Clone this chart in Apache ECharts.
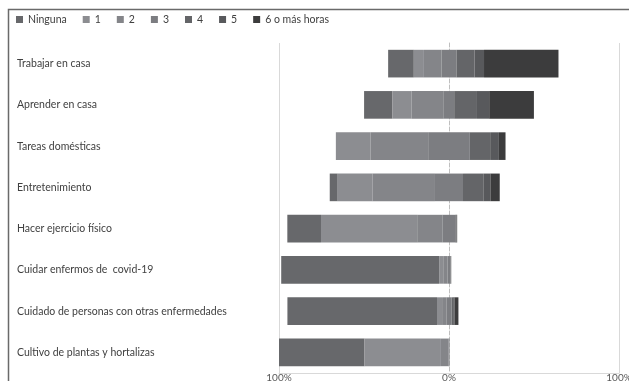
<!DOCTYPE html>
<html>
<head>
<meta charset="utf-8">
<script src="https://cdn.jsdelivr.net/npm/echarts@6/dist/echarts.min.js"></script>
<style>
  html, body { margin: 0; padding: 0; background: #fff; }
  #chart { width: 629px; height: 381px; }
</style>
</head>
<body>
<div id="chart"></div>
<script>
// Activities, top to bottom
const categories = [
  'Trabajar en casa',
  'Aprender en casa',
  'Tareas domésticas',
  'Entretenimiento',
  'Hacer ejercicio físico',
  'Cuidar enfermos de  covid-19',
  'Cuidado de personas con otras enfermedades',
  'Cultivo de plantas y hortalizas'
];

// Share of respondents (%) by hours per day spent on each activity
const ninguna = [15.1, 16.7, 0.0, 4.7, 19.8, 92.9, 88.0, 50.4];
const horas1  = [5.5, 11.2, 20.4, 20.4, 57.0, 2.4, 3.5, 44.5];
const horas2  = [10.8, 19.0, 33.9, 36.8, 14.6, 2.6, 2.0, 4.9];
const horas3  = [8.8, 6.1, 24.5, 16.5, 7.4, 1.6, 3.1, 0.6];
const horas4  = [10.6, 13.4, 12.4, 12.2, 0.6, 0.3, 0.9, 0.0];
const horas5  = [5.6, 7.2, 4.7, 3.9, 0.3, 0.1, 0.9, 0.0];
const horas6  = [43.8, 26.3, 3.9, 5.5, 0.2, 0.1, 2.2, 0.0];

const seriesNames = ['Ninguna', '1', '2', '3', '4', '5', '6 o más horas'];
const seriesValues = [ninguna, horas1, horas2, horas3, horas4, horas5, horas6];
const seriesColors = ['#67686b', '#8c8d91', '#848589', '#7c7d81', '#646568', '#58595c', '#3c3c3d'];

// The bars are centred on the middle category ("3"): an invisible leading
// segment shifts each stack left by everything below the midpoint.
const offset = categories.map((_, i) =>
  -(ninguna[i] + horas1[i] + horas2[i] + horas3[i] / 2));

const series = [{
  name: 'offset',
  type: 'bar',
  stack: 'total',
  stackStrategy: 'all',
  silent: true,
  itemStyle: { color: 'rgba(0,0,0,0)' },
  data: offset,
  barCategoryGap: '33%'
}].concat(seriesNames.map((name, k) => ({
  name: name,
  type: 'bar',
  stack: 'total',
  stackStrategy: 'all',
  itemStyle: { color: seriesColors[k] },
  data: seriesValues[k],
  barCategoryGap: '33%'
})));

const chart = echarts.init(document.getElementById('chart'), null, { renderer: 'canvas' });
chart.setOption({
  animation: false,
  backgroundColor: '#fff',
  textStyle: { fontFamily: 'Lato' },
  graphic: [{
    type: 'rect',
    shape: { x: 8.5, y: 9.5, width: 700, height: 500 },
    style: { fill: 'none', stroke: '#6a6a6a', lineWidth: 1.5 },
    z: 10
  }],
  legend: {
    data: seriesNames,
    left: 16,
    top: 14,
    padding: 0,
    itemWidth: 7,
    itemHeight: 7,
    itemGap: 16,
    icon: 'rect',
    textStyle: { fontSize: 10.5, color: '#404040', fontFamily: 'Lato' }
  },
  grid: {
    left: 279, right: 10, top: 43, bottom: 8,
    containLabel: false,
    outerBoundsMode: 'none'
  },
  xAxis: {
    type: 'value',
    min: -100,
    max: 100,
    interval: 100,
    axisLine: { show: true, lineStyle: { color: '#d9d9d9', width: 1 } },
    axisTick: { show: false },
    axisLabel: {
      margin: 0,
      fontSize: 10,
      color: '#595959',
      fontFamily: 'Lato',
      formatter: v => Math.abs(v) + '%'
    },
    splitLine: {
      show: true,
      lineStyle: { color: ['#d9d9d9', 'rgba(0,0,0,0)', '#d9d9d9'], width: 1 }
    }
  },
  yAxis: {
    type: 'category',
    inverse: true,
    data: categories,
    axisLine: { show: true, onZero: true, lineStyle: { color: '#bfbfbf', type: 'dashed', width: 1 } },
    axisTick: { show: false },
    axisLabel: {
      align: 'left',
      margin: 262,
      fontSize: 10.5,
      color: '#404040',
      fontFamily: 'Lato'
    }
  },
  series: series
});
</script>
</body>
</html>
